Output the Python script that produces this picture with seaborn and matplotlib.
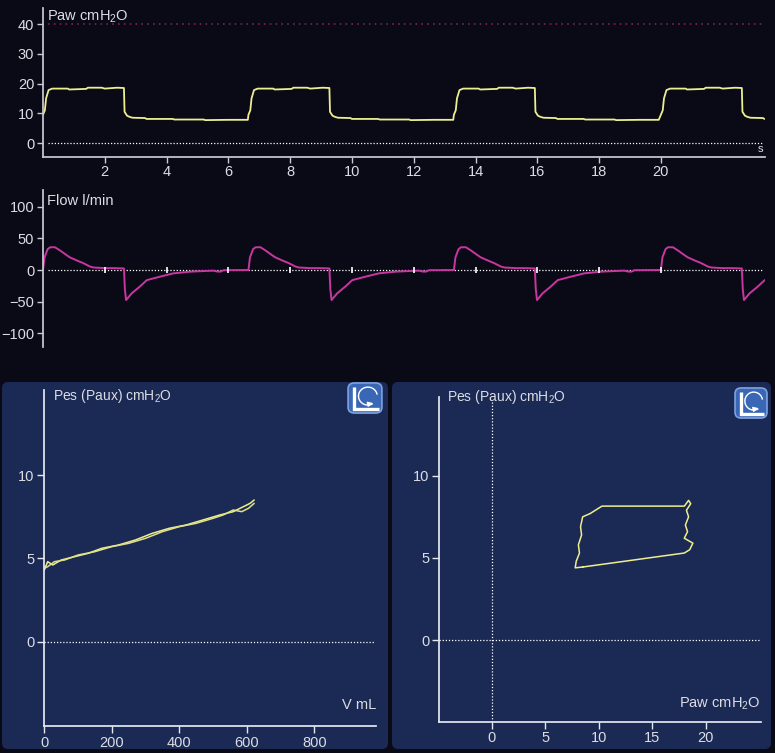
import numpy as np
import pandas as pd
import matplotlib.pyplot as plt
import seaborn as sns
from matplotlib.patches import FancyBboxPatch, Arc, FancyArrowPatch

# breath timing (seconds)
breath_start = [0.0, 6.65, 13.3, 20.0]
t_end = 23.37

# one breath of airway pressure: offset from breath start (s), Paw (cmH2O)
paw_offset = [0.0, 0.06, 0.1, 0.18, 0.3, 0.8, 0.85, 1.4, 1.45, 1.9, 2.0, 2.4, 2.62,
              2.64, 2.72, 2.8, 2.9, 3.3, 3.35, 4.2, 4.25, 5.2, 5.25, 6.0, 6.63]
paw_value = [9.5, 11.0, 15.0, 17.8, 18.3, 18.3, 18.0, 18.2, 18.6, 18.6, 18.3, 18.6, 18.5,
             10.5, 9.2, 8.8, 8.5, 8.4, 8.1, 8.1, 7.9, 7.9, 7.7, 7.8, 7.8]

# one breath of flow: offset (s), flow (l/min)
flow_offset = [0.0, 0.05, 0.15, 0.23, 0.39, 0.55, 0.75, 0.87, 1.1, 1.3, 1.52, 1.63, 2.0, 2.3,
               2.62, 2.65, 2.69, 2.75, 2.87, 3.14, 3.36, 3.79, 4.22, 4.76, 5.51, 5.65, 5.75,
               5.85, 6.63]
flow_value = [0.0, 20.0, 33.0, 36.0, 36.0, 31.0, 24.0, 20.0, 15.0, 11.0, 5.5, 4.0, 3.0, 3.0,
              2.5, -30.0, -47.5, -44.0, -37.0, -26.0, -16.0, -10.5, -5.3, -2.6, -1.0, -2.5,
              -2.5, -0.3, 0.0]

# Pes vs volume loop
vol_insp = [0, 10, 25, 50, 90, 130, 170, 220, 270, 320, 370, 420, 470, 520, 560, 590, 610, 622]
pes_insp = [4.3, 4.8, 4.6, 4.9, 5.1, 5.3, 5.6, 5.8, 6.1, 6.5, 6.8, 7.0, 7.3, 7.6, 7.8, 8.1, 8.3, 8.5]
vol_exp = [622, 605, 585, 560, 530, 500, 450, 400, 350, 300, 250, 200, 150, 100, 60, 30, 10, 0]
pes_exp = [8.3, 8.0, 7.8, 7.9, 7.6, 7.4, 7.1, 6.9, 6.6, 6.2, 5.9, 5.7, 5.4, 5.2, 4.9, 4.8, 4.5, 4.4]

# Pes vs Paw loop
paw_loop = [8.5, 7.8, 7.9, 8.2, 8.1, 8.4, 8.3, 8.5, 9.2, 10.3, 18.0, 18.4, 18.6, 18.2,
            18.4, 18.1, 18.3, 18.0, 18.8, 18.5, 18.0, 8.5]
pes_loop = [4.45, 4.4, 4.8, 5.3, 5.8, 6.4, 6.9, 7.5, 7.7, 8.15, 8.15, 8.5, 8.3, 7.9,
            7.5, 7.0, 6.6, 6.2, 5.9, 5.5, 5.3, 4.45]


def build_trace(offsets, values):
    t, v = [], []
    for s in breath_start:
        for o, val in zip(offsets, values):
            if s + o <= t_end:
                t.append(s + o)
                v.append(val)
    return pd.DataFrame({"t": t, "v": v})


paw_df = build_trace(paw_offset, paw_value)
flow_df = build_trace(flow_offset, flow_value)

sns.set_theme(style="dark")
plt.rcParams["font.family"] = ["Liberation Sans", "DejaVu Sans"]
plt.rcParams["mathtext.fontset"] = "custom"
plt.rcParams["mathtext.rm"] = "Liberation Sans"

BG = "#0a0a17"
PANEL = "#1a2a55"
AXC = "#c9cad3"
TXT = "#dcdde4"
YEL = "#eeee8e"
MAG = "#c8369f"

W, H = 775, 753
fig = plt.figure(figsize=(7.75, 7.53), dpi=100, facecolor=BG)


def rect(x0, y0, x1, y1):
    return [x0 / W, 1 - y1 / H, (x1 - x0) / W, (y1 - y0) / H]


def style(ax, color, bottom=True):
    ax.set_facecolor("none")
    ax.grid(False)
    for s in ["top", "right"]:
        ax.spines[s].set_visible(False)
    ax.spines["left"].set_color(color)
    ax.spines["bottom"].set_color(color)
    ax.spines["bottom"].set_visible(bottom)
    ax.tick_params(colors=color, labelcolor=TXT, labelsize=10.5, length=4.5, width=1,
                   pad=1.5, direction="out", left=True, bottom=bottom)
    ax.set_xlabel("")
    ax.set_ylabel("")


# bottom panels (drawn first, behind)
for x0, x1 in [(2, 388), (392, 771)]:
    fig.patches.append(FancyBboxPatch((x0 / W, 1 - 749 / H), (x1 - x0) / W, (749 - 382) / H,
                                      boxstyle="round,pad=0,rounding_size=0.008",
                                      transform=fig.transFigure, fc=PANEL, ec="none", zorder=-10))

# Paw waveform
ax1 = fig.add_axes(rect(42.5, 8, 765, 157))
sns.lineplot(data=paw_df, x="t", y="v", ax=ax1, color=YEL, linewidth=1.3, estimator=None)
ax1.plot([0.15, 23.3], [40, 40], color="#7c2448", linestyle=(0, (1, 2.5)), linewidth=1.2)
ax1.plot([0.15, 23.3], [0, 0], color="white", linestyle=(0, (1, 1.5)), linewidth=0.9)
ax1.set_xlim(-0.016, 23.37)
ax1.set_ylim(-4.7, 45.4)
ax1.set_xticks(range(2, 21, 2))
ax1.set_yticks([0, 10, 20, 30, 40])
style(ax1, AXC)
ax1.text(0.006, 0.995, "Paw cmH$_\\mathregular{2}$O", transform=ax1.transAxes, color=TXT,
         fontsize=10.5, va="top", ha="left")
ax1.text(23.22, -2.0, "s", color=TXT, fontsize=8, ha="center", va="center")

# Flow waveform
ax2 = fig.add_axes(rect(42.5, 190, 765, 347))
sns.lineplot(data=flow_df, x="t", y="v", ax=ax2, color=MAG, linewidth=1.4, estimator=None)
ax2.plot([0.15, 23.3], [0, 0], color="white", linestyle=(0, (1, 1.5)), linewidth=0.9, zorder=1)
ax2.plot(list(range(2, 21, 2)), [0] * 10, linestyle="none", marker="|", markersize=5,
         color="white", markeredgewidth=1.2)
ax2.set_xlim(-0.016, 23.37)
ax2.set_ylim(-121.8, 126.6)
ax2.set_xticks([])
ax2.set_yticks([-100, -50, 0, 50, 100])
ax2.set_yticklabels(["\u2212100", "\u221250", "0", "50", "100"])
style(ax2, AXC, bottom=False)
ax2.text(0.006, 0.975, "Flow l/min", transform=ax2.transAxes, color=TXT,
         fontsize=10.5, va="top", ha="left")

# Pes vs V loop
ax3 = fig.add_axes(rect(44.3, 390, 376, 726))
sns.lineplot(x=vol_insp, y=pes_insp, ax=ax3, color=YEL, linewidth=1.1, sort=False, estimator=None)
sns.lineplot(x=vol_exp, y=pes_exp, ax=ax3, color="#dfe08a", linewidth=1.1, sort=False, estimator=None)
ax3.plot([0, 980], [0, 0], color="white", linestyle=(0, (1, 1.5)), linewidth=0.9)
ax3.set_xlim(0, 983)
ax3.set_ylim(-5.06, 15.1)
ax3.set_xticks([0, 200, 400, 600, 800])
ax3.set_yticks([0, 5, 10])
style(ax3, "#e6e8f0")
ax3.tick_params(labelsize=10.5, pad=2, length=5)
ax3.text(0.027, 0.983, "Pes (Paux) cmH$_\\mathregular{2}$O", transform=ax3.transAxes,
         color=TXT, fontsize=10, va="center", ha="left")
ax3.text(1.0, 0.063, "V mL", transform=ax3.transAxes, color=TXT, fontsize=10.5,
         va="center", ha="right")

# Pes vs Paw loop
ax4 = fig.add_axes(rect(439.3, 396.7, 760.7, 721.7))
sns.lineplot(x=paw_loop, y=pes_loop, ax=ax4, color=YEL, linewidth=1.1, sort=False, estimator=None)
ax4.plot([-4.9, 25.1], [0, 0], color="white", linestyle=(0, (1, 1.5)), linewidth=0.9)
ax4.plot([0, 0], [-4.95, 14.5], color="white", linestyle=(0, (1, 1.5)), linewidth=0.9)
ax4.set_xlim(-4.9, 25.14)
ax4.set_ylim(-4.95, 14.8)
ax4.set_xticks([0, 5, 10, 15, 20])
ax4.set_yticks([0, 5, 10])
style(ax4, "#e6e8f0")
ax4.tick_params(labelsize=10.5, pad=2, length=5)
ax4.text(0.025, 1.0, "Pes (Paux) cmH$_\\mathregular{2}$O", transform=ax4.transAxes,
         color=TXT, fontsize=10, va="center", ha="left")
ax4.text(1.0, 0.055, "Paw cmH$_\\mathregular{2}$O", transform=ax4.transAxes, color=TXT,
         fontsize=10.5, va="center", ha="right")


# loop selector icons
def icon(x0, y0, x1, y1):
    a = fig.add_axes(rect(x0, y0, x1, y1))
    a.set_xlim(0, 1)
    a.set_ylim(0, 1)
    a.axis("off")
    a.add_patch(FancyBboxPatch((0.03, 0.03), 0.94, 0.94, boxstyle="round,pad=0,rounding_size=0.18",
                               fc="#3a67b5", ec="#7ea2e0", lw=1.2))
    a.plot([0.2, 0.2, 0.88], [0.85, 0.15, 0.15], color="white", lw=2.4,
           solid_capstyle="butt", solid_joinstyle="miter")
    a.add_patch(Arc((0.58, 0.56), 0.52, 0.56, theta1=10, theta2=300, color="white", lw=1.0))
    a.add_patch(FancyArrowPatch((0.56, 0.3), (0.8, 0.36), arrowstyle="-|>", mutation_scale=7,
                                color="white", lw=1.0))


icon(347, 382, 383, 414)
icon(734, 387, 768, 419)

fig.savefig("out.png", dpi=100, facecolor=BG)
